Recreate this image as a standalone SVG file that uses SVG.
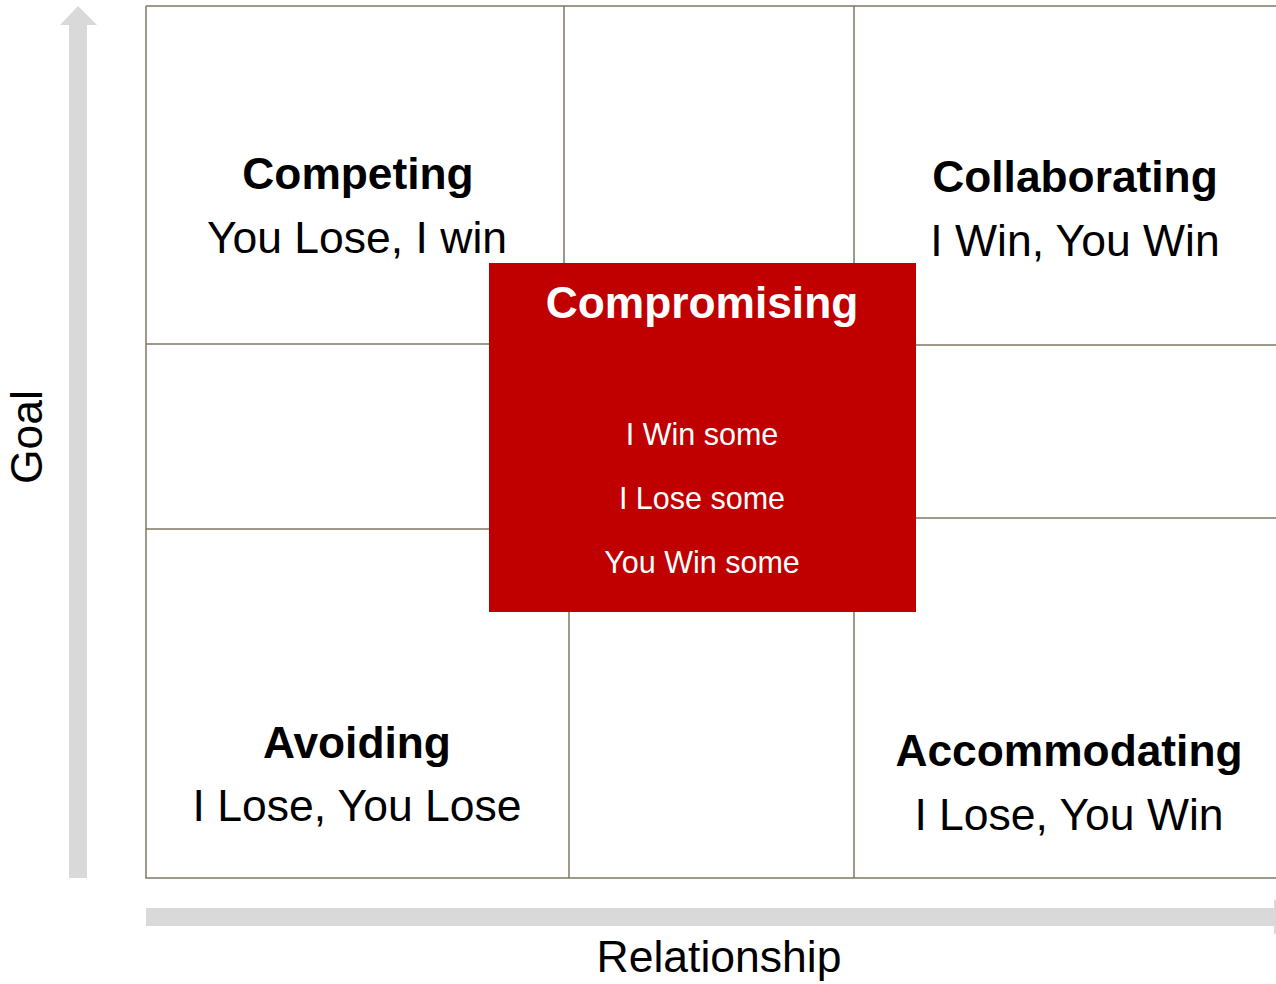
<svg xmlns="http://www.w3.org/2000/svg" width="1276" height="984" viewBox="0 0 1276 984">
<style>
.grid{stroke:#7f7866;stroke-width:1.5;fill:none}
.axis{fill:#d9d9d9}
text{font-family:"Liberation Sans",Arial,sans-serif;text-anchor:middle}
.h{font-weight:bold;font-size:44.3px;fill:#000}
.s{font-size:44.5px;fill:#000}
.w{font-size:30.5px;fill:#fff}
.wh{font-weight:bold;font-size:44.3px;fill:#fff}
.ax{font-size:44.5px;fill:#000}
</style>
<rect width="1276" height="984" fill="#fff"/>
<g id="axes">
<polygon class="axis" points="69,878 69,25 60,25 78,6 97,25 87,25 87,878"/>
<polygon class="axis" points="146,908 1274,908 1274,899 1293,917 1274,935 1274,926 146,926"/>
<text class="ax" transform="translate(42,437) rotate(-90)">Goal</text>
<text class="ax" x="719" y="972">Relationship</text>
</g>
<g id="connectors">
<path class="grid" d="M146,6 H1276 M146,6 V878 H1276 M564,6 V263 M854,6 V263 M569,612 V878 M854,612 V878 M146,344 H489 M146,529 H489 M916,345 H1276 M916,518 H1276"/>
</g>
<g id="competing">
<text class="h" x="358" y="189">Competing</text>
<text class="s" x="357" y="253">You Lose, I win</text>
</g>
<g id="collaborating">
<text class="h" x="1075" y="192">Collaborating</text>
<text class="s" x="1075" y="256">I Win, You Win</text>
</g>
<g id="avoiding">
<text class="h" x="357" y="758">Avoiding</text>
<text class="s" x="357" y="821">I Lose, You Lose</text>
</g>
<g id="accommodating">
<text class="h" x="1069" y="766">Accommodating</text>
<text class="s" x="1069" y="830">I Lose, You Win</text>
</g>
<g id="compromising">
<rect x="489" y="263" width="427" height="349" fill="#c00000"/>
<text class="wh" x="702" y="318">Compromising</text>
<text class="w" x="702" y="445">I Win some</text>
<text class="w" x="702" y="509">I Lose some</text>
<text class="w" x="702" y="573">You Win some</text>
</g>
</svg>
